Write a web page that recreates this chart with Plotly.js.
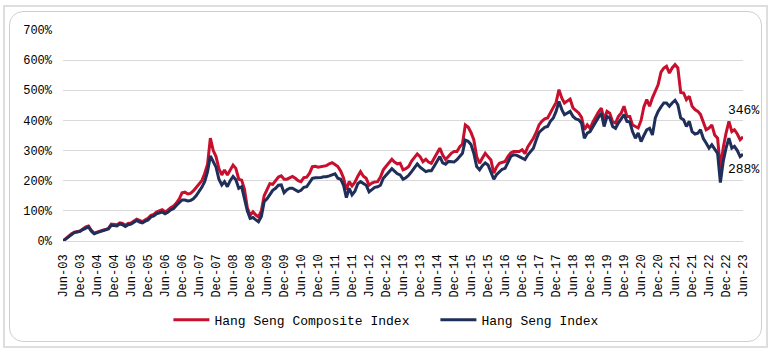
<!DOCTYPE html>
<html>
<head>
<meta charset="utf-8">
<script src="https://cdn.plot.ly/plotly-3.0.1.min.js"></script>
<style>
  html, body { margin: 0; padding: 0; background: #ffffff; }
  #wrap { position: relative; width: 773px; height: 353px; overflow: hidden; }
  #chart { position: absolute; left: 0; top: 0; width: 773px; height: 353px; }
  .frame1 { position: absolute; left: 3px; top: 5px; width: 765px; height: 343px; border: 2px solid #dedede; pointer-events: none; box-sizing: border-box; }
  .frame2 { position: absolute; left: 9px; top: 11px; width: 753px; height: 331px; border: 1px solid #cfcfcf; border-radius: 14px; pointer-events: none; box-sizing: border-box; }
</style>
</head>
<body>
<div id="wrap">
  <div id="chart"></div>
  <div class="frame1"></div>
  <div class="frame2"></div>
</div>
<script>
// Monthly cumulative returns (%), Jun-2003 .. Jun-2023
const startMonth = '2003-06';
const seriesNames = ['Hang Seng Composite Index', 'Hang Seng Index'];
const hscValues = [
  0, 8, 16, 24, 29, 31, 33, 40, 47, 50, 35, 26,
  30, 33, 36, 38, 42, 56, 55, 54, 60, 58, 52, 58,
  60, 66, 72, 68, 64, 70, 75, 85, 88, 96, 100, 104,
  97, 102, 110, 116, 126, 140, 160, 162, 156, 158, 166, 178,
  192, 200, 224, 255, 341, 300, 280, 240, 219, 236, 219, 235,
  252, 241, 205, 202, 172, 110, 85, 97, 86, 80, 100, 150,
  172, 190, 188, 200, 212, 216, 205, 205, 210, 214, 208, 200,
  197, 210, 212, 225, 247, 248, 245, 247, 247, 250, 256, 260,
  254, 247, 232, 209, 170, 197, 183, 195, 215, 230, 215, 208,
  185, 192, 196, 197, 212, 236, 248, 258, 271, 262, 256, 258,
  236, 240, 247, 265, 275, 289, 280, 263, 271, 262, 258, 275,
  290, 308, 285, 270, 280, 291, 297, 297, 313, 322, 385, 378,
  360, 336, 280, 258, 275, 291, 280, 269, 225, 245, 258, 260,
  264, 280, 292, 297, 298, 297, 303, 290, 313, 325, 341, 360,
  385, 397, 405, 408, 425, 441, 460, 502, 474, 458, 465, 471,
  441, 432, 425, 410, 369, 385, 374, 395, 413, 428, 441, 402,
  430, 424, 395, 391, 413, 425, 447, 413, 413, 385, 380, 375,
  400, 445, 469, 447, 475, 496, 518, 560, 574, 580, 557, 574,
  585, 574, 493, 491, 469, 480, 447, 436, 430, 420, 397, 369,
  375, 385, 352, 341, 240, 310, 358, 397, 363, 369, 355, 336,
  346
];
const hsiValues = [
  0, 7, 15, 22, 28, 30, 32, 38, 44, 47, 32, 24,
  28, 31, 34, 35, 40, 52, 52, 50, 57, 54, 48, 54,
  56, 62, 68, 63, 60, 66, 70, 80, 83, 90, 92, 96,
  90, 95, 103, 108, 118, 126, 136, 136, 133, 134, 140, 150,
  164, 178, 197, 230, 282, 265, 245, 205, 186, 197, 180, 200,
  214, 203, 175, 180, 145, 100, 75, 78, 70, 64, 81, 130,
  140, 153, 168, 175, 185, 186, 160, 170, 175, 175, 168, 164,
  168, 178, 180, 195, 208, 210, 210, 211, 213, 213, 216, 220,
  223, 208, 205, 185, 144, 175, 153, 165, 190, 197, 190, 185,
  163, 170, 178, 180, 185, 208, 218, 228, 240, 232, 223, 219,
  205, 210, 218, 230, 245, 256, 245, 236, 230, 233, 233, 248,
  262, 280, 259, 255, 264, 264, 262, 270, 280, 291, 335, 331,
  320, 291, 247, 236, 250, 259, 252, 225, 205, 220, 230, 238,
  241, 259, 280, 286, 285, 280, 275, 270, 286, 295, 308, 335,
  360, 369, 377, 380, 397, 408, 430, 463, 436, 419, 425, 430,
  413, 405, 402, 391, 341, 358, 363, 380, 397, 410, 424, 380,
  413, 408, 380, 374, 391, 405, 419, 397, 395, 363, 341, 358,
  330, 350, 369, 374, 352, 408, 430, 445, 458, 458, 447, 458,
  467, 452, 408, 402, 380, 397, 363, 355, 358, 369, 340, 325,
  308, 319, 303, 291, 194, 265, 308, 341, 308, 314, 300, 280,
  288
];
const yTickVals = [0, 100, 200, 300, 400, 500, 600, 700];
const yTickText = ['0%', '100%', '200%', '300%', '400%', '500%', '600%', '700%'];
const endLabels = ['346%', '288%'];

const colors = ['#C8102E', '#1F2F5A'];

// month dates for the series (category positions on a date axis)
function monthDates(start, n) {
  const [y0, m0] = start.split('-').map(Number);
  const out = [];
  for (let i = 0; i < n; i++) {
    const t = (m0 - 1) + i;
    const y = y0 + Math.floor(t / 12);
    const m = (t % 12) + 1;
    out.push(y + '-' + String(m).padStart(2, '0') + '-01');
  }
  return out;
}
const dates = monthDates(startMonth, hscValues.length);

const fontFam = '"Liberation Mono", "Courier New", monospace';

const traces = [
  { x: dates, y: hscValues, name: seriesNames[0], type: 'scatter', mode: 'lines',
    line: { color: colors[0], width: 3 }, hoverinfo: 'skip' },
  { x: dates, y: hsiValues, name: seriesNames[1], type: 'scatter', mode: 'lines',
    line: { color: colors[1], width: 3 }, hoverinfo: 'skip' }
];

const lastX = dates[dates.length - 1];
const layout = {
  width: 773, height: 353,
  margin: { l: 63, r: 30, t: 30, b: 112 },
  paper_bgcolor: 'rgba(0,0,0,0)', plot_bgcolor: '#ffffff',
  font: { family: fontFam, size: 12, color: '#000000' },
  showlegend: true,
  legend: {
    orientation: 'h', x: 0.155, xanchor: 'left', y: -0.374, yanchor: 'middle',
    font: { family: fontFam, size: 13, color: '#000' },
    entrywidth: 216, entrywidthmode: 'pixels', itemwidth: 36,
    bgcolor: 'rgba(0,0,0,0)'
  },
  xaxis: {
    type: 'date', range: [dates[0], lastX], automargin: false,
    tick0: dates[0], dtick: 'M6', tickformat: '%b-%y', tickangle: -90,
    showgrid: false, zeroline: false, showline: false,
    ticks: '', ticklabelstandoff: 10,
    tickfont: { family: fontFam, size: 12, color: '#000' }
  },
  yaxis: {
    range: [0, 700], tickmode: 'array', tickvals: yTickVals, ticktext: yTickText, automargin: false,
    showgrid: true, gridcolor: '#d9d9d9', gridwidth: 1,
    zeroline: true, zerolinecolor: '#d9d9d9', zerolinewidth: 1,
    showline: false, ticks: '', ticklabelstandoff: 10,
    tickfont: { family: fontFam, size: 12, color: '#000' }
  },
  annotations: [
    { x: lastX, y: hscValues[hscValues.length - 1], text: endLabels[0], showarrow: false,
      xanchor: 'center', yanchor: 'middle', yshift: 26, xshift: 0,
      font: { family: fontFam, size: 13, color: '#000' } },
    { x: lastX, y: hsiValues[hsiValues.length - 1], text: endLabels[1], showarrow: false,
      xanchor: 'center', yanchor: 'middle', yshift: -15, xshift: 0,
      font: { family: fontFam, size: 13, color: '#000' } }
  ]
};

Plotly.newPlot('chart', traces, layout, { displayModeBar: false, staticPlot: true });
</script>
</body>
</html>
